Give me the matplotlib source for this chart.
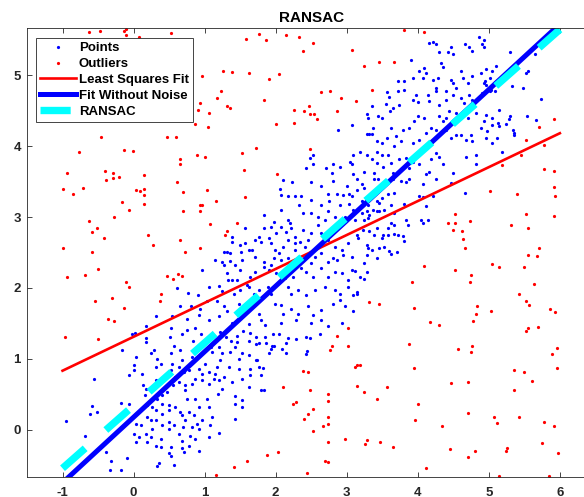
import numpy as np
import matplotlib
matplotlib.use('Agg')
from matplotlib import pyplot as plt

# values (data units)
inliers = np.array([
    # lower part of the cloud
    (-0.02, 1.35), (0.02, 1.36), (0.18, 1.30), (0.17, 1.24), (0.53, 1.43), (0.51, 1.31), (0.57, 1.19),
    (0.68, 1.35), (0.75, 1.41), (0.83, 1.26), (0.87, 1.43), (0.95, 1.35), (1.03, 1.25), (1.09, 1.17),
    (1.21, 1.38), (1.30, 1.31), (1.37, 1.25), (1.46, 1.33), (1.54, 1.39), (1.64, 1.36), (1.63, 1.26),
    (1.45, 1.24), (1.43, 1.17), (1.20, 1.17), (1.10, 1.10), (1.24, 1.08), (1.36, 1.10), (1.52, 1.08),
    (1.63, 1.05), (-0.16, 1.13), (0.04, 1.03), (0.29, 1.13), (0.24, 1.08), (0.33, 1.00), (0.52, 1.08),
    (0.66, 1.12), (0.82, 1.03), (0.68, 0.98), (0.54, 0.93), (0.52, 0.84), (0.38, 0.93), (0.31, 0.89),
    (0.01, 0.91), (0.01, 0.84), (-0.07, 0.78), (0.12, 0.79), (0.87, 0.98), (0.92, 0.86), (1.01, 0.93),
    (1.06, 0.82), (1.17, 0.89), (1.22, 0.98), (1.34, 0.89), (1.15, 0.79), (1.27, 0.75), (1.48, 1.00),
    (1.48, 0.86), (1.64, 0.86), (0.64, 0.89), (0.71, 0.82), (0.78, 0.84), (0.96, 0.79), (1.13, 0.72),
    (-0.56, 0.72), (0.31, 0.70), (0.13, 0.63), (0.18, 0.58), (0.59, 0.75), (0.64, 0.68), (0.73, 0.63),
    (0.55, 0.63), (0.73, 0.56), (0.47, 0.54), (0.82, 0.65), (0.87, 0.72), (0.96, 0.70), (1.06, 0.65),
    (1.20, 0.70), (1.24, 0.58), (1.38, 0.68), (1.52, 0.72), (1.64, 0.77), (1.62, 0.61), (0.40, 0.49),
    (0.33, 0.44), (0.16, 0.49), (0.75, 0.44), (0.87, 0.44), (1.03, 0.44), (1.19, 0.51), (1.43, 0.48),
    (1.43, 0.37), (1.52, 0.42), (-0.18, 0.38), (-0.07, 0.36), (-0.59, 0.34), (-0.51, 0.26), (-0.61, 0.22),
    (-0.95, 0.13), (0.19, 0.35), (0.26, 0.32), (0.40, 0.37), (0.50, 0.35), (0.59, 0.32), (0.66, 0.25),
    (0.31, 0.28), (0.40, 0.23), (0.50, 0.28), (0.68, 0.21), (0.78, 0.25), (0.92, 0.32), (0.85, 0.21),
    (1.06, 0.32), (0.73, 0.14), (0.89, 0.09), (0.82, 0.04), (0.96, 0.14), (1.08, 0.07), (1.10, 0.18),
    (1.43, 0.16), (1.53, 0.32), (0.03, 0.08), (0.10, 0.07), (0.19, 0.18), (0.24, 0.14), (0.32, 0.14),
    (0.50, 0.11), (0.57, 0.07), (0.40, 0.07), (-0.68, -0.08), (0.00, -0.05), (0.07, -0.10), (0.17, -0.05),
    (0.26, 0.02), (0.24, -0.10), (0.32, -0.22), (0.38, -0.12), (0.50, 0.02), (0.64, -0.05), (0.70, 0.04),
    (0.68, -0.15), (0.80, -0.08), (0.92, 0.02), (0.87, -0.12), (1.06, -0.10), (1.20, -0.04), (0.03, -0.17),
    (0.19, -0.17), (0.39, -0.24), (0.53, -0.24), (0.68, -0.26), (0.71, -0.31), (0.78, -0.22), (0.52, -0.36),
    (0.50, -0.33), (0.92, -0.29), (-0.39, -0.31), (-0.09, -0.40), (-0.32, -0.43), (0.36, -0.47),
    (0.33, -0.51), (0.57, -0.50), (-0.33, -0.57), (-0.18, -0.57), (0.18, 1.46), (0.31, 1.60),
    # middle
    (2.06, 3.40), (2.07, 3.31), (2.23, 3.50), (2.17, 3.29), (2.27, 3.30), (2.36, 3.29), (2.50, 3.50),
    (2.64, 3.43), (2.81, 3.51), (2.74, 3.33), (2.86, 3.33), (3.00, 3.43), (3.03, 3.33), (3.07, 3.29),
    (2.95, 3.31), (2.75, 3.22), (2.64, 3.17), (2.50, 3.24), (2.33, 3.17), (2.39, 3.05), (2.50, 3.05),
    (2.60, 3.00), (2.08, 3.10), (1.83, 3.03), (1.97, 2.93), (1.94, 2.86), (2.18, 2.96), (2.20, 2.91),
    (2.74, 3.08), (2.90, 3.17), (3.03, 3.19), (3.09, 3.10), (3.11, 2.96), (2.97, 3.00), (2.83, 3.00),
    (2.93, 2.91), (2.69, 2.96), (1.57, 2.84), (1.83, 2.84), (1.76, 2.72), (1.71, 2.68), (1.80, 2.65),
    (1.90, 2.70), (1.94, 2.63), (2.01, 2.77), (2.08, 2.86), (2.15, 2.79), (2.22, 2.84), (2.27, 2.72),
    (2.39, 2.82), (2.46, 2.68), (2.50, 2.77), (2.60, 2.89), (2.64, 2.77), (2.74, 2.68), (2.83, 2.58),
    (2.93, 2.54), (3.02, 2.63), (2.27, 2.63), (2.34, 2.65), (2.41, 2.58), (2.17, 2.68), (2.11, 2.58),
    (1.99, 2.54), (2.04, 2.49), (1.97, 2.42), (2.08, 2.39), (2.18, 2.42), (2.27, 2.54), (1.38, 2.72),
    (1.39, 2.65), (1.57, 2.63), (1.50, 2.61), (1.27, 2.51), (1.31, 2.51), (1.36, 2.49), (1.51, 2.51),
    (1.62, 2.54), (1.67, 2.54), (1.71, 2.44), (1.53, 2.39), (0.96, 2.26), (1.24, 2.37), (1.27, 2.32),
    (1.31, 2.21), (1.43, 2.32), (1.50, 2.25), (1.64, 2.16), (1.71, 2.23), (1.83, 2.37), (1.83, 2.30),
    (1.90, 2.25), (1.94, 2.32), (2.01, 2.21), (2.13, 2.14), (2.25, 2.16), (2.36, 2.28), (2.43, 2.23),
    (2.50, 2.35), (2.53, 2.16), (2.55, 2.44), (2.64, 2.49), (2.74, 2.37), (2.81, 2.42), (2.86, 2.39),
    (2.95, 2.46), (3.07, 2.44), (2.64, 2.28), (2.74, 2.16), (2.83, 2.23), (2.93, 2.21), (3.02, 2.11),
    (3.07, 2.25), (1.15, 2.39), (1.36, 2.38), (1.45, 2.11), (1.38, 2.11), (1.59, 2.04), (0.61, 2.00),
    (0.77, 1.93), (0.91, 1.90), (1.06, 2.01), (1.20, 2.03), (1.24, 1.96), (1.33, 2.11), (1.41, 1.92),
    (1.50, 1.97), (1.62, 2.02), (1.69, 1.92), (1.76, 1.97), (1.89, 2.02), (1.94, 1.92), (2.17, 2.02),
    (2.22, 1.92), (2.32, 1.97), (2.43, 1.90), (2.55, 1.97), (2.69, 2.02), (2.83, 1.97), (2.90, 1.92),
    (3.02, 2.02), (3.09, 1.90), (0.66, 1.75), (0.81, 1.74), (0.94, 1.71), (1.03, 1.81), (1.17, 1.81),
    (1.27, 1.74), (1.31, 1.67), (1.48, 1.78), (1.55, 1.69), (1.66, 1.81), (1.76, 1.64), (1.80, 1.55),
    (1.99, 1.78), (2.08, 1.76), (2.11, 1.64), (2.22, 1.71), (2.32, 1.64), (2.46, 1.74), (2.53, 1.62),
    (2.64, 1.69), (2.81, 1.78), (2.90, 1.83), (2.97, 1.74), (3.09, 1.67), (0.54, 1.61), (0.75, 1.57),
    (0.92, 1.62), (1.06, 1.55), (1.20, 1.60), (1.38, 1.50), (1.62, 1.49), (1.85, 1.48), (2.08, 1.50),
    (2.29, 1.55), (2.50, 1.50), (2.64, 1.55), (2.74, 1.46), (2.93, 1.50), (2.11, 3.52),
    # below the middle
    (1.73, 1.31), (1.85, 1.31), (1.96, 1.35), (2.04, 1.35), (2.18, 1.29), (2.29, 1.28), (2.43, 1.31),
    (2.48, 1.29), (2.62, 1.35), (1.76, 1.23), (1.72, 1.21), (1.86, 1.23), (1.95, 1.19), (1.98, 1.19),
    (2.14, 1.23), (1.93, 1.14), (1.90, 1.09), (2.09, 1.14), (2.14, 1.08), (2.44, 1.11), (2.43, 1.07),
    (1.72, 0.99), (1.74, 0.99), (1.77, 0.89), (1.82, 0.88), (1.80, 0.77), (1.80, 0.57), (1.84, 0.57),
    # right of the middle
    (3.14, 3.53), (3.21, 3.46), (3.14, 3.38), (3.25, 3.41), (3.39, 3.54), (3.44, 3.54), (3.53, 3.50),
    (3.65, 3.53), (3.77, 3.51), (3.84, 3.49), (3.88, 3.53), (4.08, 3.46), (4.26, 3.54), (4.47, 3.48),
    (4.66, 3.34), (3.67, 3.34), (3.58, 3.32), (3.49, 3.27), (3.42, 3.22), (3.46, 3.20), (3.32, 3.27),
    (3.30, 3.17), (3.21, 3.22), (3.37, 3.10), (3.32, 3.03), (3.28, 3.08), (3.21, 3.06), (3.24, 2.96),
    (3.30, 2.99), (3.42, 3.08), (3.46, 3.08), (3.52, 3.10), (3.62, 3.17), (3.67, 3.06), (3.63, 2.92),
    (3.58, 2.85), (3.66, 2.89), (3.80, 3.18), (3.84, 2.96), (3.86, 2.89), (4.02, 3.29), (4.08, 3.28),
    (4.12, 3.15), (4.21, 3.29), (4.05, 2.96), (4.07, 2.92), (4.15, 2.96), (3.15, 2.75), (3.16, 2.70),
    (3.23, 2.81), (3.32, 2.80), (3.42, 2.85), (3.39, 2.75), (3.51, 2.75), (3.49, 2.71), (3.58, 2.74),
    (3.67, 2.76), (3.72, 2.75), (3.79, 2.73), (3.80, 2.66), (3.28, 2.61), (3.30, 2.56), (3.35, 2.54),
    (3.46, 2.56), (3.53, 2.58), (3.60, 2.52), (3.63, 2.48), (3.71, 2.51), (3.28, 2.46), (3.42, 2.42),
    (3.25, 2.35), (3.11, 2.24), (3.29, 2.23), (3.18, 2.16), (3.24, 2.13), (3.14, 1.95), (3.14, 1.92),
    # upper part of the cloud
    (4.16, 5.45), (4.22, 5.47), (4.26, 5.44), (4.30, 5.33), (4.47, 5.40), (4.49, 5.29), (4.43, 5.33),
    (4.67, 5.44), (4.72, 5.40), (4.77, 5.34), (4.86, 5.54), (4.93, 5.50), (4.90, 5.43), (3.90, 5.21),
    (4.02, 5.06), (4.09, 5.10), (4.12, 5.03), (4.33, 5.17), (4.36, 5.11), (4.61, 5.05), (4.63, 4.96),
    (4.70, 4.89), (4.77, 4.98), (4.89, 5.03), (4.93, 4.89), (5.05, 5.05), (5.11, 4.91), (4.21, 4.93),
    (4.28, 4.96), (4.47, 4.93), (4.49, 4.89), (4.54, 4.82), (4.40, 4.77), (4.26, 4.82), (4.25, 4.77),
    (4.07, 4.96), (3.93, 4.96), (3.72, 4.91), (3.81, 4.92), (3.72, 4.78), (3.80, 4.79), (3.57, 4.76),
    (3.60, 4.69), (3.36, 4.57), (3.55, 4.59), (3.65, 4.54), (3.61, 4.49), (3.74, 4.58), (3.93, 4.65),
    (3.98, 4.72), (4.00, 4.62), (4.14, 4.72), (4.16, 4.63), (4.30, 4.58), (4.40, 4.65), (4.49, 4.72),
    (4.61, 4.68), (4.65, 4.61), (4.72, 4.72), (4.77, 4.65), (4.91, 4.75), (4.96, 4.86), (5.03, 4.79),
    (5.14, 4.51), (5.05, 4.39), (4.96, 4.44), (4.93, 4.35), (4.82, 4.46), (4.70, 4.54), (4.70, 4.39),
    (4.63, 4.44), (4.54, 4.46), (4.44, 4.49), (4.40, 4.39), (4.30, 4.42), (4.35, 4.35), (4.26, 4.23),
    (4.40, 4.23), (4.47, 4.11), (4.54, 4.16), (4.61, 4.16), (4.68, 4.09), (4.75, 4.16), (4.77, 4.07),
    (4.89, 4.25), (4.98, 4.21), (5.05, 4.30), (5.12, 4.11), (3.28, 4.45), (3.30, 4.39), (3.44, 4.42),
    (3.49, 4.40), (3.37, 4.25), (3.32, 4.17), (3.28, 4.17), (3.36, 4.17), (3.07, 4.29), (2.88, 4.22),
    (3.42, 4.07), (3.49, 4.04), (3.56, 4.11), (3.70, 4.14), (3.63, 4.25), (3.79, 4.23), (3.88, 4.25),
    (3.95, 4.35), (4.00, 4.42), (4.09, 4.39), (4.12, 4.18), (4.19, 4.25), (4.02, 4.09), (3.93, 4.04),
    (3.77, 4.07), (3.67, 4.00), (3.58, 3.88), (3.49, 3.88), (3.42, 3.92), (3.42, 3.76), (3.35, 3.81),
    (3.28, 3.88), (3.18, 3.92), (3.09, 3.88), (3.04, 3.78), (3.07, 3.74), (2.90, 3.71), (2.81, 3.74),
    (2.71, 3.69), (2.53, 3.88), (2.48, 3.83), (2.53, 3.74), (2.43, 3.69), (3.51, 3.71), (3.63, 3.76),
    (3.74, 3.81), (3.84, 3.83), (3.93, 3.78), (3.88, 3.69), (4.02, 3.74), (4.19, 3.81), (4.26, 3.90),
    (4.30, 3.85), (4.35, 3.74), (4.49, 3.62), (4.16, 3.64), (4.12, 3.60), (4.68, 3.85), (4.82, 3.88),
    (4.96, 4.11), (5.05, 4.04), (4.82, 3.74), (3.70, 3.60), (3.65, 3.62), (3.39, 3.62), (3.25, 3.64),
    (3.09, 3.60), (2.79, 3.62),
    # right edge of the cloud
    (5.30, 5.32), (5.65, 5.30), (5.53, 5.03), (5.55, 5.05), (5.33, 4.84), (5.48, 4.82), (5.74, 4.66),
    (5.29, 4.38), (5.30, 4.42), (5.54, 4.42), (5.66, 4.36), (5.24, 4.31), (5.34, 4.22), (5.36, 4.18),
    (5.35, 4.16), (5.19, 3.92), (5.15, 4.28), (4.93, 5.40), (4.96, 5.08), (5.10, 5.12), (4.94, 4.92),
    (5.02, 4.96), (5.01, 4.77), (5.08, 4.77), (5.13, 4.32),
])

outliers = np.array([
    (-0.63, 5.61), (-0.47, 5.62), (-0.14, 5.62), (-0.11, 5.65), (-0.11, 5.57), (0.07, 5.54), (0.52, 5.59),
    (1.58, 5.51), (1.76, 5.58), (1.86, 5.49), (2.15, 5.57), (2.33, 5.53), (1.26, 5.05), (1.39, 5.04),
    (1.63, 5.03), (2.05, 5.01), (0.96, 4.98), (0.81, 5.01), (1.90, 4.95), (1.23, 4.77), (1.18, 4.68),
    (0.93, 4.61), (0.91, 4.51), (1.06, 4.47), (1.31, 4.57), (1.36, 4.54), (1.83, 4.65), (2.26, 4.51),
    (2.01, 4.31), (2.26, 4.32), (0.86, 4.31), (1.05, 4.27), (-0.46, 4.13), (0.47, 4.12), (0.60, 4.12),
    (1.73, 3.97), (-0.77, 3.91), (-0.14, 3.95), (-0.01, 3.93), (1.52, 3.90), (0.89, 3.88), (1.00, 3.84),
    (0.65, 3.82), (0.65, 3.74), (1.55, 3.66), (2.02, 3.61), (-0.93, 3.62), (-0.40, 3.65), (-0.39, 3.52),
    (-0.29, 3.55), (-0.29, 3.62), (-0.21, 3.56), (0.14, 3.59), (-1.00, 3.39), (-0.85, 3.32), (-0.71, 3.41),
    (0.03, 3.38), (0.09, 3.36), (0.14, 3.40), (0.15, 3.31), (0.61, 3.50), (0.70, 3.35), (1.03, 3.38),
    (0.94, 3.17), (0.97, 3.17), (0.14, 3.18), (-0.16, 3.21), (-0.06, 3.10), (0.70, 3.08), (0.93, 3.09),
    (1.16, 3.23), (1.57, 3.28), (-0.63, 2.95), (-0.58, 2.79), (-0.51, 2.85), (-0.27, 3.00), (-0.41, 2.71),
    (0.21, 2.74), (0.27, 2.60), (0.66, 2.68), (1.08, 2.90), (1.31, 2.80), (1.29, 2.74), (1.46, 2.92),
    (0.93, 2.57), (-1.00, 2.57), (-0.58, 2.50), (0.73, 2.51), (-0.93, 2.16), (-0.68, 2.19), (-0.50, 2.27),
    (-0.10, 2.09), (-0.07, 2.02), (0.47, 2.17), (0.56, 2.13), (0.62, 2.20), (0.68, 2.17), (0.38, 1.91),
    (0.37, 1.82), (-0.30, 1.86), (-0.54, 1.81), (-0.14, 1.72), (-0.36, 1.57), (-0.28, 1.54), (-0.50, 1.28),
    (-0.97, 1.31), (2.11, 0.61), (2.25, 0.36), (2.29, 0.40), (1.88, -0.35), (2.03, -0.31), (1.59, -0.43),
    (1.41, -0.52), (1.16, -0.64), (3.80, 5.64), (4.09, 5.61), (2.52, 5.45), (2.38, 5.34), (3.07, 5.35),
    (3.45, 5.19), (3.66, 5.18), (3.24, 5.13), (3.35, 4.79), (2.64, 4.76), (2.77, 4.77), (2.92, 4.67),
    (3.13, 4.63), (2.40, 4.50), (2.47, 4.57), (2.48, 4.45), (2.54, 4.45), (2.58, 4.38), (2.86, 4.49),
    (2.48, 3.96), (5.92, 4.38), (5.71, 4.27), (5.78, 4.01), (5.53, 4.08), (5.19, 3.73), (5.78, 3.67),
    (5.92, 3.65), (5.01, 3.36), (5.39, 3.33), (5.93, 3.29), (5.92, 3.01), (5.52, 3.04), (5.31, 2.89),
    (5.55, 2.84), (4.52, 3.04), (4.42, 2.92), (4.53, 2.92), (4.73, 2.94), (4.49, 2.81), (4.63, 2.69),
    (4.67, 2.56), (5.71, 2.56), (5.45, 3.88), (5.92, 3.42), (4.62, 2.80),
    (5.55, 2.46), (5.68, 2.45), (4.09, 2.31), (4.53, 2.25), (4.75, 2.19), (4.73, 2.08), (5.04, 2.34),
    (5.14, 2.30), (5.49, 2.30), (5.63, 2.05), (3.92, 2.08), (5.43, 1.92), (5.53, 1.81), (5.57, 1.76),
    (3.31, 1.80), (3.45, 1.77), (3.94, 1.72), (4.84, 1.75), (4.82, 1.63), (4.78, 1.54), (5.03, 1.68),
    (5.86, 1.70), (5.93, 1.66), (4.17, 1.52), (4.30, 1.48), (3.02, 1.44), (5.55, 1.44), (5.53, 1.39),
    (5.69, 1.45), (2.87, 1.32), (2.79, 1.19), (2.77, 1.12), (3.02, 1.19), (3.88, 1.21), (4.57, 1.14),
    (4.76, 1.19), (4.75, 1.10), (5.96, 1.16), (5.89, 1.07), (3.12, 0.89), (3.14, 0.92), (3.18, 0.91),
    (3.95, 0.88), (5.36, 0.85), (5.50, 0.82), (5.96, 0.87), (2.38, 0.83), (2.45, 0.81), (5.61, 0.69),
    (3.14, 0.62), (3.25, 0.54), (3.57, 0.61), (4.47, 0.66), (4.71, 0.67), (5.36, 0.56), (2.49, 0.57),
    (2.73, 0.50), (2.73, 0.41), (3.42, 0.44), (4.00, 0.36), (2.46, 0.23), (2.53, 0.29), (2.40, 0.15),
    (2.74, 0.18), (2.73, 0.08), (2.66, 0.05), (2.53, -0.02), (3.96, 0.14), (4.34, 0.06), (4.71, 0.24),
    (5.07, 0.18), (5.12, 0.10), (5.43, 0.18), (5.77, 0.11), (5.92, 0.06), (2.73, -0.17), (2.98, -0.12),
    (3.28, -0.14), (3.26, -0.20), (3.47, -0.17), (3.65, -0.24), (4.46, -0.27), (4.80, -0.29),
    (4.71, -0.38), (5.24, -0.29), (5.26, -0.26), (5.75, -0.18), (5.97, -0.32), (2.69, -0.44),
    (2.74, -0.45), (4.12, -0.53), (2.44, -0.60), (5.14, -0.65), (5.84, -0.65),
])

# fitted lines, end points at x = -1 and x = 6
line_x = [-1, 6]
lsq_y = [0.835, 4.18]
true_y = [-0.743, 5.718]
ransac_y = [-0.539, 5.642]

labels = ['Points', 'Outliers', 'Least Squares Fit', 'Fit Without Noise', 'RANSAC']

plt.rcParams['font.family'] = ['Liberation Sans', 'DejaVu Sans']
plt.rcParams['font.weight'] = 'bold'
plt.rcParams['axes.unicode_minus'] = False
axis_col = '#262626'

fig = plt.figure(figsize=(5.84, 4.97), dpi=100)
# the right edge of the axes lies outside the picture, as in the reference
ax = fig.add_axes([27 / 584, 20 / 497, 568.4 / 584, 449 / 497])

ax.plot(inliers[:, 0], inliers[:, 1], 'o', color='#0000ff', ms=2.3, mew=0, label=labels[0])
ax.plot(outliers[:, 0], outliers[:, 1], 'o', color='#ff0000', ms=2.3, mew=0, label=labels[1])
ax.plot(line_x, lsq_y, '-', color='#ff0000', lw=1.9, label=labels[2])
ax.plot(line_x, true_y, '-', color='#0000ff', lw=3.6, label=labels[3])
ax.plot(line_x, ransac_y, '--', color='#00ffff', lw=5.3, dashes=(4.1, 3.75), label=labels[4])

ax.set_xlim(-1.5, 6.5)
ax.set_ylim(-0.662, 5.662)
ax.set_xticks(range(-1, 7))
ax.set_yticks(range(0, 6))

ax.tick_params(direction='in', length=3.6, width=0.6, colors=axis_col,
               top=True, right=True, labelsize=9.5)
ax.tick_params(axis='x', pad=7.5)
ax.tick_params(axis='y', pad=4.5)
for lab in ax.get_xticklabels() + ax.get_yticklabels():
    lab.set_fontweight('bold')
for s in ax.spines.values():
    s.set_color(axis_col)
    s.set_linewidth(0.6)

ax.set_title('RANSAC', fontsize=11, fontweight='bold', pad=4)

leg = ax.legend(loc='upper left', bbox_to_anchor=(0.0158, 0.9777), borderaxespad=0,
                fancybox=False, framealpha=1, edgecolor=axis_col, numpoints=1,
                handlelength=2.7, handletextpad=0.25, borderpad=0.3, labelspacing=0.28,
                prop={'weight': 'bold', 'size': 9.5})
leg.get_frame().set_linewidth(0.6)

fig.savefig('out.png', dpi=100)
